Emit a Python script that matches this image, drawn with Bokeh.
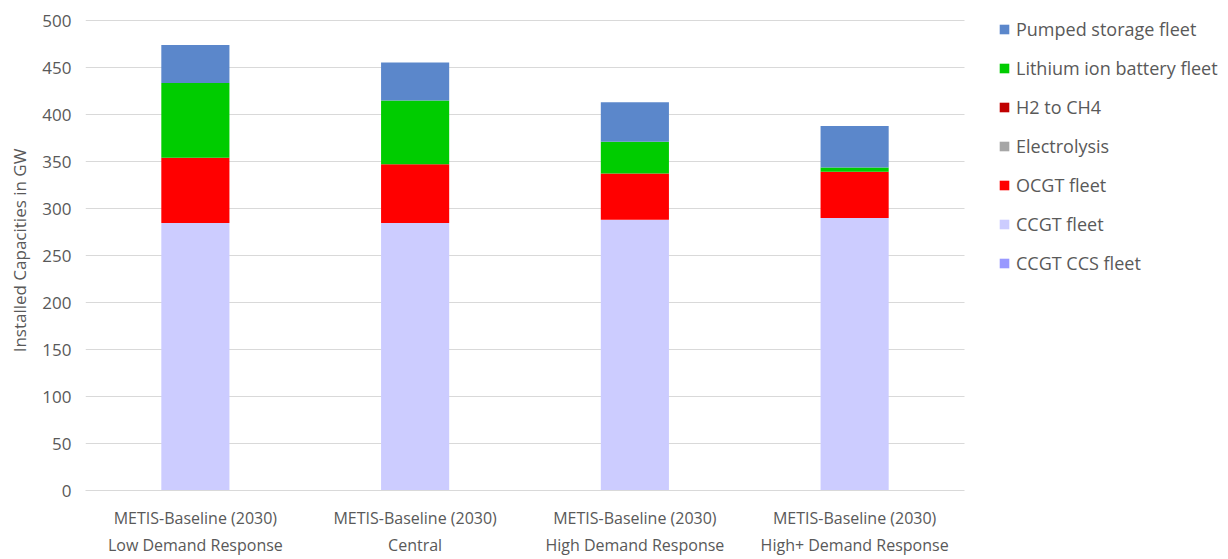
from bokeh.plotting import figure
from bokeh.models import ColumnDataSource, Range1d, Legend, LegendItem, FixedTicker
from bokeh.embed import file_html
from bokeh.resources import INLINE

scenarios = [
    "METIS-Baseline (2030)\nLow Demand Response",
    "METIS-Baseline (2030)\nCentral",
    "METIS-Baseline (2030)\nHigh Demand Response",
    "METIS-Baseline (2030)\nHigh+ Demand Response",
]
ccgt_ccs = [0, 0, 0, 0]
ccgt = [284.5, 284.5, 288, 290]
ocgt = [69.5, 62.7, 49.2, 49]
electrolysis = [0, 0, 0, 0]
h2_ch4 = [0, 0, 0, 0]
lithium = [79.5, 67.7, 33.8, 4.7]
pumped = [40.5, 40.5, 42, 44]

series = ["CCGT CCS fleet", "CCGT fleet", "OCGT fleet", "Electrolysis",
          "H2 to CH4", "Lithium ion battery fleet", "Pumped storage fleet"]
colors = ["#9999FF", "#CCCCFF", "#FF0000", "#A6A6A6", "#C00000", "#00CC00", "#5B87CB"]
y_ticks = list(range(0, 501, 50))

# category slots on a numeric scale (slot i spans [i, i+1])
n = len(scenarios)
xpos = [i + 0.5 for i in range(n)]

src = ColumnDataSource(dict(x=xpos, **{
    series[0]: ccgt_ccs, series[1]: ccgt, series[2]: ocgt, series[3]: electrolysis,
    series[4]: h2_ch4, series[5]: lithium, series[6]: pumped}))

FONT = "Open Sans"
TXT = "#595959"

W, H = 1228, 559
LEFT, TOP, BOTTOM = 85, 10, 69
PLOT_RIGHT = 964   # pixel where the category area ends; legend sits to its right
AXIS_TOP = 20      # pixel of the top (500) gridline
frame_w = W - LEFT
frame_h = H - TOP - BOTTOM
x_end = n * frame_w / (PLOT_RIGHT - LEFT)
y_top = y_ticks[-1]
y_end = y_top * frame_h / (H - BOTTOM - AXIS_TOP)

p = figure(width=W, height=H, x_range=Range1d(0, x_end), y_range=Range1d(0, y_end),
           output_backend="svg", toolbar_location=None,
           min_border_left=LEFT, min_border_right=0, min_border_top=TOP,
           min_border_bottom=BOTTOM)
renderers = p.vbar_stack(series, x="x", width=0.31, source=src, color=colors,
                         line_color=None)

p.outline_line_color = None
p.xgrid.grid_line_color = None
grid = p.ygrid[0]
if "cross_bounds" in grid.properties():
    grid.cross_bounds = (0, n)
    grid.grid_line_color = "#D9D9D9"
else:
    grid.grid_line_color = None
    p.segment(x0=[0] * len(y_ticks), x1=[n] * len(y_ticks), y0=y_ticks, y1=y_ticks,
              line_color="#D9D9D9", line_width=1, level="underlay")

p.yaxis.ticker = FixedTicker(ticks=y_ticks)
p.yaxis.axis_line_color = None
p.yaxis.major_tick_line_color = None
p.yaxis.major_tick_out = 0
p.yaxis.minor_tick_line_color = None
p.yaxis.major_label_text_color = TXT
p.yaxis.major_label_text_font = FONT
p.yaxis.major_label_text_font_size = "17px"
p.yaxis.major_label_standoff = 14
p.yaxis.axis_label = "Installed Capacities in GW"
p.yaxis.axis_label_text_font = FONT
p.yaxis.axis_label_text_font_style = "normal"
p.yaxis.axis_label_text_font_size = "17px"
p.yaxis.axis_label_text_color = TXT
p.yaxis.axis_label_standoff = 8

p.xaxis.ticker = FixedTicker(ticks=xpos)
p.xaxis.major_label_overrides = {x: s for x, s in zip(xpos, scenarios)}
p.xaxis.bounds = (0, n)
p.xaxis.axis_line_color = "#D9D9D9"
p.xaxis.major_tick_line_color = None
p.xaxis.major_tick_out = 0
p.xaxis.minor_tick_line_color = None
p.xaxis.major_label_text_color = TXT
p.xaxis.major_label_text_font = FONT
p.xaxis.major_label_text_font_size = "16px"
p.xaxis.major_label_text_line_height = 1.25
p.xaxis.major_label_standoff = 16

items = [LegendItem(label=s, renderers=[r]) for s, r in zip(series, renderers)][::-1]
legend = Legend(items=items, location=(PLOT_RIGHT - LEFT + 34, 215), padding=0, margin=0,
                spacing=15, label_height=20, glyph_height=12, glyph_width=12,
                label_standoff=6, label_text_font=FONT, label_text_font_size="18px",
                label_text_color=TXT, border_line_color=None, background_fill_alpha=0)
p.add_layout(legend, "center")

open("out.html", "w").write(file_html(p, INLINE))
